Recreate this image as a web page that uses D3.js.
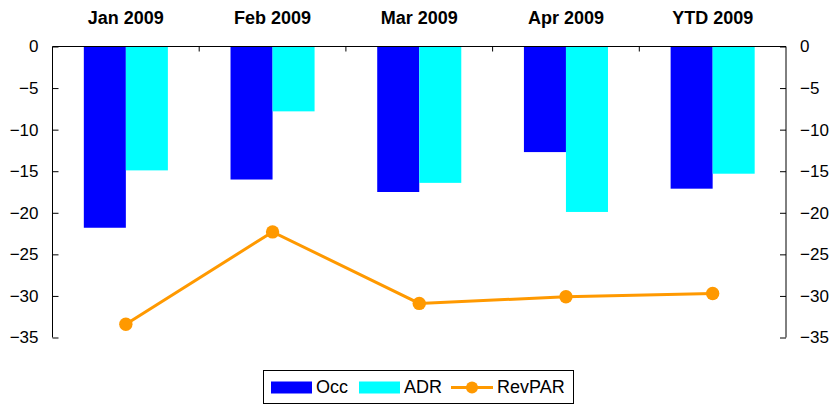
<!DOCTYPE html>
<html><head><meta charset="utf-8">
<script src="https://cdn.jsdelivr.net/npm/d3@7"></script>
<style>body{margin:0;background:#fff}svg{display:block;font-family:"Liberation Sans",Arial,sans-serif}</style>
</head><body><svg id="c" width="831" height="406"></svg>
<script>
const categories = ["Jan 2009","Feb 2009","Mar 2009","Apr 2009","YTD 2009"];
const occ = [-21.8,-16.0,-17.5,-12.7,-17.1];
const adr = [-14.9,-7.8,-16.4,-19.9,-15.3];
const revpar = [-33.4,-22.3,-30.9,-30.1,-29.7];
const yTicks = [0,-5,-10,-15,-20,-25,-30,-35];
const seriesNames = ["Occ","ADR","RevPAR"];
const colors = {Occ:"#0000FF", ADR:"#00FFFF", RevPAR:"#FF9900"};

const svg = d3.select("#c");
const L = 52.5, R = 786, T = 46.5, B = 337.5;
const y = d3.scaleLinear().domain([-35,0]).range([B,T]);
const xCat = d3.scaleBand().domain(categories).range([L,R]).padding(0);
const x0 = d3.scaleBand().domain(categories).range([L,R]).paddingInner(0.427).paddingOuter(0.2135);
const x1 = d3.scaleBand().domain(["Occ","ADR"]).range([0,x0.bandwidth()]);

// bars
const g = svg.append("g");
categories.forEach((c,i)=>{
  [["Occ",occ[i]],["ADR",adr[i]]].forEach(([s,v])=>{
    g.append("rect").attr("x",x0(c)+x1(s)).attr("width",x1.bandwidth())
     .attr("y",y(0)).attr("height",y(v)-y(0)).attr("fill",colors[s]);
  });
});

// axes
const axL = d3.axisLeft(y).tickValues(yTicks).tickSize(-6).tickPadding(14).tickFormat(d3.format("d"));
const axR = d3.axisRight(y).tickValues(yTicks).tickSize(-6).tickPadding(14).tickFormat(d3.format("d"));
function style(sel){
  sel.select(".domain").remove();
  sel.selectAll("line").attr("stroke","#000");
  sel.selectAll("text").attr("font-size",17).attr("fill","#000").attr("font-family","Liberation Sans, Arial, sans-serif");
}
svg.append("g").attr("transform",`translate(${L},0)`).call(axL).call(style);
svg.append("g").attr("transform",`translate(${R},0)`).call(axR).call(style);
svg.append("line").attr("x1",L).attr("x2",L).attr("y1",T).attr("y2",B).attr("stroke","#000");
svg.append("line").attr("x1",R).attr("x2",R).attr("y1",T).attr("y2",B).attr("stroke","#000");
// top category axis at y=0
const axTop = d3.axisBottom(xCat).tickSize(0).tickFormat("");
svg.append("g").attr("transform",`translate(0,${y(0)})`).call(axTop)
  .call(s=>s.select(".domain").attr("stroke","#000").attr("d",`M${L},0H${R}`));
categories.slice(1).forEach(c=>{
  svg.append("line").attr("x1",xCat(c)).attr("x2",xCat(c)).attr("y1",y(0)).attr("y2",y(0)+5).attr("stroke","#000");
});
// category labels
svg.append("g").selectAll("text").data(categories).join("text")
  .attr("x",d=>xCat(d)+xCat.bandwidth()/2).attr("y",24).attr("text-anchor","middle")
  .attr("font-size",18).attr("font-weight","bold").text(d=>d);

// line
const pts = categories.map((c,i)=>[xCat(c)+xCat.bandwidth()/2, y(revpar[i])]);
svg.append("path").attr("d",d3.line()(pts)).attr("fill","none").attr("stroke",colors.RevPAR).attr("stroke-width",3);
svg.append("g").selectAll("circle").data(pts).join("circle")
  .attr("cx",d=>d[0]).attr("cy",d=>d[1]).attr("r",6.7).attr("fill",colors.RevPAR);

// legend
const lg = svg.append("g");
lg.append("rect").attr("x",263.5).attr("y",370.5).attr("width",310).attr("height",33).attr("fill","#fff").attr("stroke","#000");
lg.append("rect").attr("x",271).attr("y",381.5).attr("width",41).attr("height",12).attr("fill",colors.Occ);
lg.append("text").attr("x",316).attr("y",392.5).attr("font-size",18).text("Occ");
lg.append("rect").attr("x",359).attr("y",381.5).attr("width",41).attr("height",12).attr("fill",colors.ADR);
lg.append("text").attr("x",404).attr("y",392.5).attr("font-size",18).text("ADR");
lg.append("line").attr("x1",451).attr("x2",493).attr("y1",387.5).attr("y2",387.5).attr("stroke",colors.RevPAR).attr("stroke-width",3);
lg.append("circle").attr("cx",472).attr("cy",387.5).attr("r",6).attr("fill",colors.RevPAR);
lg.append("text").attr("x",497).attr("y",392.5).attr("font-size",18).text("RevPAR");
</script></body></html>
